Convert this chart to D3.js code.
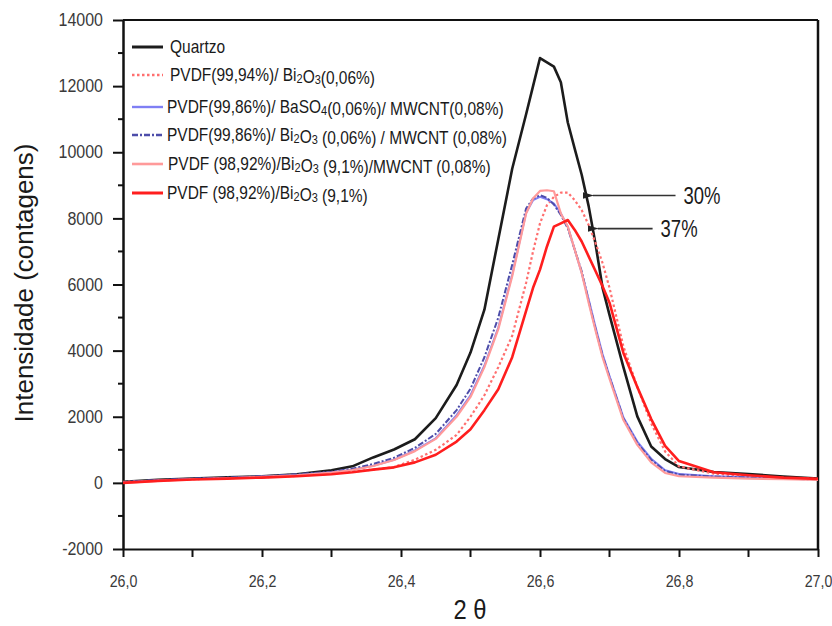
<!DOCTYPE html>
<html>
<head>
<meta charset="utf-8">
<script src="https://cdn.jsdelivr.net/npm/d3@7"></script>
<style>
  html, body { margin: 0; padding: 0; background: #fff; }
  svg { display: block; font-family: "Liberation Sans", Arial, sans-serif; }
</style>
</head>
<body>
<svg id="chart" width="832" height="626"></svg>
<script>
// 2θ positions (degrees) shared by every diffractogram
const twoTheta = [26.00, 26.05, 26.10, 26.15, 26.20, 26.25, 26.30, 26.33, 26.36, 26.39,
                  26.42, 26.45, 26.48, 26.50, 26.52, 26.54, 26.56, 26.58, 26.59, 26.60,
                  26.61, 26.62, 26.63, 26.64, 26.65, 26.66, 26.67, 26.68, 26.69, 26.70,
                  26.72, 26.74, 26.76, 26.78, 26.80, 26.85, 26.90, 26.95, 27.00];

// Intensity (counts) for each sample
const quartzo        = [30, 90, 130, 170, 200, 260, 380, 500, 770, 1010,
                        1320, 1960, 2960, 3940, 5240, 7370, 9500, 11150, 12000, 12850,
                        12720, 12590, 12120, 10900, 10100, 9320, 8370, 7210, 5900, 5080,
                        3500, 2010, 1100, 720, 480, 330, 270, 190, 130];
const pvdfBi006      = [30, 70, 110, 140, 170, 210, 280, 340, 400, 480,
                        700, 1000, 1450, 2000, 2650, 3500, 4450, 6050, 7000, 7850,
                        8400, 8650, 8780, 8780, 8550, 8250, 7800, 7250, 6650, 5900,
                        4130, 2900, 1800, 950, 500, 280, 200, 150, 120];
const pvdfBaso4Mwcnt = [20, 80, 120, 150, 190, 240, 320, 400, 520, 700,
                        980, 1350, 2050, 2650, 3550, 4700, 6300, 8170, 8550, 8650,
                        8580, 8450, 8150, 7750, 7050, 6350, 5550, 4710, 3900, 3230,
                        1980, 1250, 730, 380, 270, 200, 170, 140, 110];
const pvdfBiMwcnt    = [20, 80, 130, 160, 200, 260, 340, 430, 570, 760,
                        1060, 1480, 2200, 2850, 3800, 5000, 6600, 8300, 8600, 8700,
                        8620, 8420, 8100, 7700, 7050, 6400, 5500, 4650, 3850, 3200,
                        1950, 1200, 700, 360, 250, 190, 160, 130, 100];
const pvdfBi91Mwcnt  = [0, 60, 110, 140, 180, 230, 310, 390, 510, 690,
                        960, 1330, 2000, 2600, 3500, 4650, 6250, 8150, 8600, 8830,
                        8850, 8820, 8150, 7750, 7050, 6350, 5450, 4600, 3800, 3150,
                        1900, 1150, 620, 300, 200, 160, 130, 110, 90];
const pvdfBi91       = [0, 60, 100, 130, 160, 200, 260, 320, 400, 470,
                        620, 850, 1250, 1620, 2200, 2830, 3800, 5200, 5900, 6450,
                        7150, 7750, 7850, 7950, 7650, 7300, 6850, 6400, 5950, 5450,
                        3930, 2900, 1930, 1120, 660, 320, 230, 160, 120];

// Legend labels ("_x" marks a subscript character)
const seriesLabels = [
  "Quartzo",
  "PVDF(99,94%)/ Bi_2O_3(0,06%)",
  "PVDF(99,86%)/ BaSO_4(0,06%)/ MWCNT(0,08%)",
  "PVDF(99,86%)/ Bi_2O_3 (0,06%) / MWCNT (0,08%)",
  "PVDF (98,92%)/Bi_2O_3 (9,1%)/MWCNT (0,08%)",
  "PVDF (98,92%)/Bi_2O_3 (9,1%)"
];
const seriesValues = [quartzo, pvdfBi006, pvdfBaso4Mwcnt, pvdfBiMwcnt, pvdfBi91Mwcnt, pvdfBi91];

// Axis ticks
const xTicks = [26.0, 26.2, 26.4, 26.6, 26.8, 27.0];
const xMinorTicks = [26.1, 26.3, 26.5, 26.7, 26.9];
const yTicks = [-2000, 0, 2000, 4000, 6000, 8000, 10000, 12000, 14000];
const yMinorTicks = [-1000, 1000, 3000, 5000, 7000, 9000, 11000, 13000];

// Crystallinity-reduction annotations: [label, intensity, arrow tip 2θ, arrow tail 2θ]
const annotations = [["30%", 8690, 26.676, 26.795], ["37%", 7690, 26.683, 26.762]];

const styles = [
  { color: "#1c1c1c", width: 2.6, dash: null },
  { color: "#ff6f6f", width: 2.2, dash: "2.5,2.5" },
  { color: "#7f7ff4", width: 2.0, dash: null },
  { color: "#4d4daa", width: 2.0, dash: "6,2,2,2" },
  { color: "#ff9a9a", width: 2.2, dash: null },
  { color: "#ff1e1e", width: 2.6, dash: null }
];

const svg = d3.select("#chart");
const plotLeft = 123, plotRight = 818, plotTop = 20, plotBottom = 549;

const x = d3.scaleLinear().domain([26, 27]).range([plotLeft, plotRight]);
const y = d3.scaleLinear().domain([-2000, 14000]).range([plotBottom, plotTop]);

const ptLocale = d3.formatLocale({ decimal: ",", thousands: ".", grouping: [3], currency: ["", ""] });
const fmtX = ptLocale.format(".1f");

// Frame (top and right edges)
svg.append("line").attr("x1", plotLeft).attr("x2", plotRight).attr("y1", plotTop).attr("y2", plotTop)
  .attr("stroke", "#111").attr("stroke-width", 2);
svg.append("line").attr("x1", plotRight).attr("x2", plotRight).attr("y1", plotTop).attr("y2", plotBottom)
  .attr("stroke", "#111").attr("stroke-width", 2.5);

// Y axis
const yAxis = svg.append("g").attr("transform", `translate(${plotLeft},0)`)
  .call(d3.axisLeft(y).tickValues(yTicks).tickSize(10).tickPadding(10).tickSizeOuter(0)
    .tickFormat(d => String(d)));
yAxis.select(".domain").attr("stroke", "#111").attr("stroke-width", 2.5);
yAxis.selectAll(".tick line").attr("stroke", "#111").attr("stroke-width", 2);
yAxis.selectAll(".tick text").attr("font-size", 16).attr("fill", "#3a3a3a")
  .attr("font-family", "Liberation Sans, Arial, sans-serif")
  .attr("transform", "scale(1,1.1)");
svg.append("g").selectAll("line").data(yMinorTicks).join("line")
  .attr("x1", plotLeft - 5).attr("x2", plotLeft).attr("y1", d => y(d)).attr("y2", d => y(d))
  .attr("stroke", "#111").attr("stroke-width", 2);

// X axis
const xAxis = svg.append("g").attr("transform", `translate(0,${plotBottom})`)
  .call(d3.axisBottom(x).tickValues(xTicks).tickSize(8).tickPadding(14).tickSizeOuter(0)
    .tickFormat(fmtX));
xAxis.select(".domain").attr("stroke", "#111").attr("stroke-width", 2.2);
xAxis.selectAll(".tick line").attr("stroke", "#111").attr("stroke-width", 2);
xAxis.selectAll(".tick text").attr("font-size", 15).attr("fill", "#3a3a3a")
  .attr("font-family", "Liberation Sans, Arial, sans-serif")
  .attr("transform", "scale(0.95,1.15)");
svg.append("g").selectAll("line").data(xMinorTicks).join("line")
  .attr("x1", d => x(d)).attr("x2", d => x(d)).attr("y1", plotBottom).attr("y2", plotBottom + 8)
  .attr("stroke", "#111").attr("stroke-width", 2);

// Axis titles
svg.append("text")
  .attr("transform", "translate(33,283) rotate(-90)")
  .attr("text-anchor", "middle").attr("font-size", 26).attr("fill", "#1a1a1a")
  .text("Intensidade (contagens)");
svg.append("text")
  .attr("transform", "translate(470,619) scale(0.85,1)")
  .attr("text-anchor", "middle").attr("font-size", 28).attr("fill", "#1a1a1a")
  .text("2 θ");

// Diffractograms
const line = d3.line().x(d => x(d[0])).y(d => y(d[1]));
seriesValues.forEach((vals, i) => {
  const pts = twoTheta.map((t, k) => [t, vals[k]]);
  svg.append("path").datum(pts)
    .attr("d", line)
    .attr("fill", "none")
    .attr("stroke", styles[i].color)
    .attr("stroke-width", styles[i].width)
    .attr("stroke-linejoin", "round")
    .attr("stroke-dasharray", styles[i].dash);
});

// Annotation arrows
const defs = svg.append("defs");
defs.append("marker").attr("id", "head").attr("viewBox", "0 0 10 6")
  .attr("refX", 1).attr("refY", 3).attr("markerWidth", 7).attr("markerHeight", 4.2)
  .attr("orient", "auto-start-reverse")
  .append("path").attr("d", "M0,3 L10,0 L10,6 Z").attr("fill", "#222");
annotations.forEach(([label, v, tip, tail]) => {
  svg.append("line")
    .attr("x1", x(tip)).attr("x2", x(tail)).attr("y1", y(v)).attr("y2", y(v))
    .attr("stroke", "#333").attr("stroke-width", 1.6)
    .attr("marker-start", "url(#head)");
  svg.append("text")
    .attr("transform", `translate(${x(tail) + 8},${y(v) + 8}) scale(1,1.28)`)
    .attr("font-size", 18.5).attr("fill", "#1a1a1a").text(label);
});

// Legend
const legendRows = [47, 75, 107, 135, 164, 193];
const legendTextX = [170, 170, 167, 167, 168, 167];
const legend = svg.append("g");
seriesLabels.forEach((label, i) => {
  const cy = legendRows[i];
  legend.append("line")
    .attr("x1", 132).attr("x2", 163).attr("y1", cy).attr("y2", cy)
    .attr("stroke", styles[i].color).attr("stroke-width", styles[i].width + 0.4)
    .attr("stroke-dasharray", styles[i].dash);
  const t = legend.append("text")
    .attr("transform", `translate(${legendTextX[i]},${cy + 6}) scale(1,1.15)`)
    .attr("font-size", 15.5).attr("fill", "#1a1a1a");
  const parts = label.split(/(_.)/).filter(p => p.length);
  parts.forEach(p => {
    if (p[0] === "_") {
      t.append("tspan").attr("font-size", 11).attr("dy", 1.5).text(p[1]);
      t.append("tspan").attr("dy", -1.5).text("");
    } else {
      t.append("tspan").text(p);
    }
  });
});
</script>
</body>
</html>
